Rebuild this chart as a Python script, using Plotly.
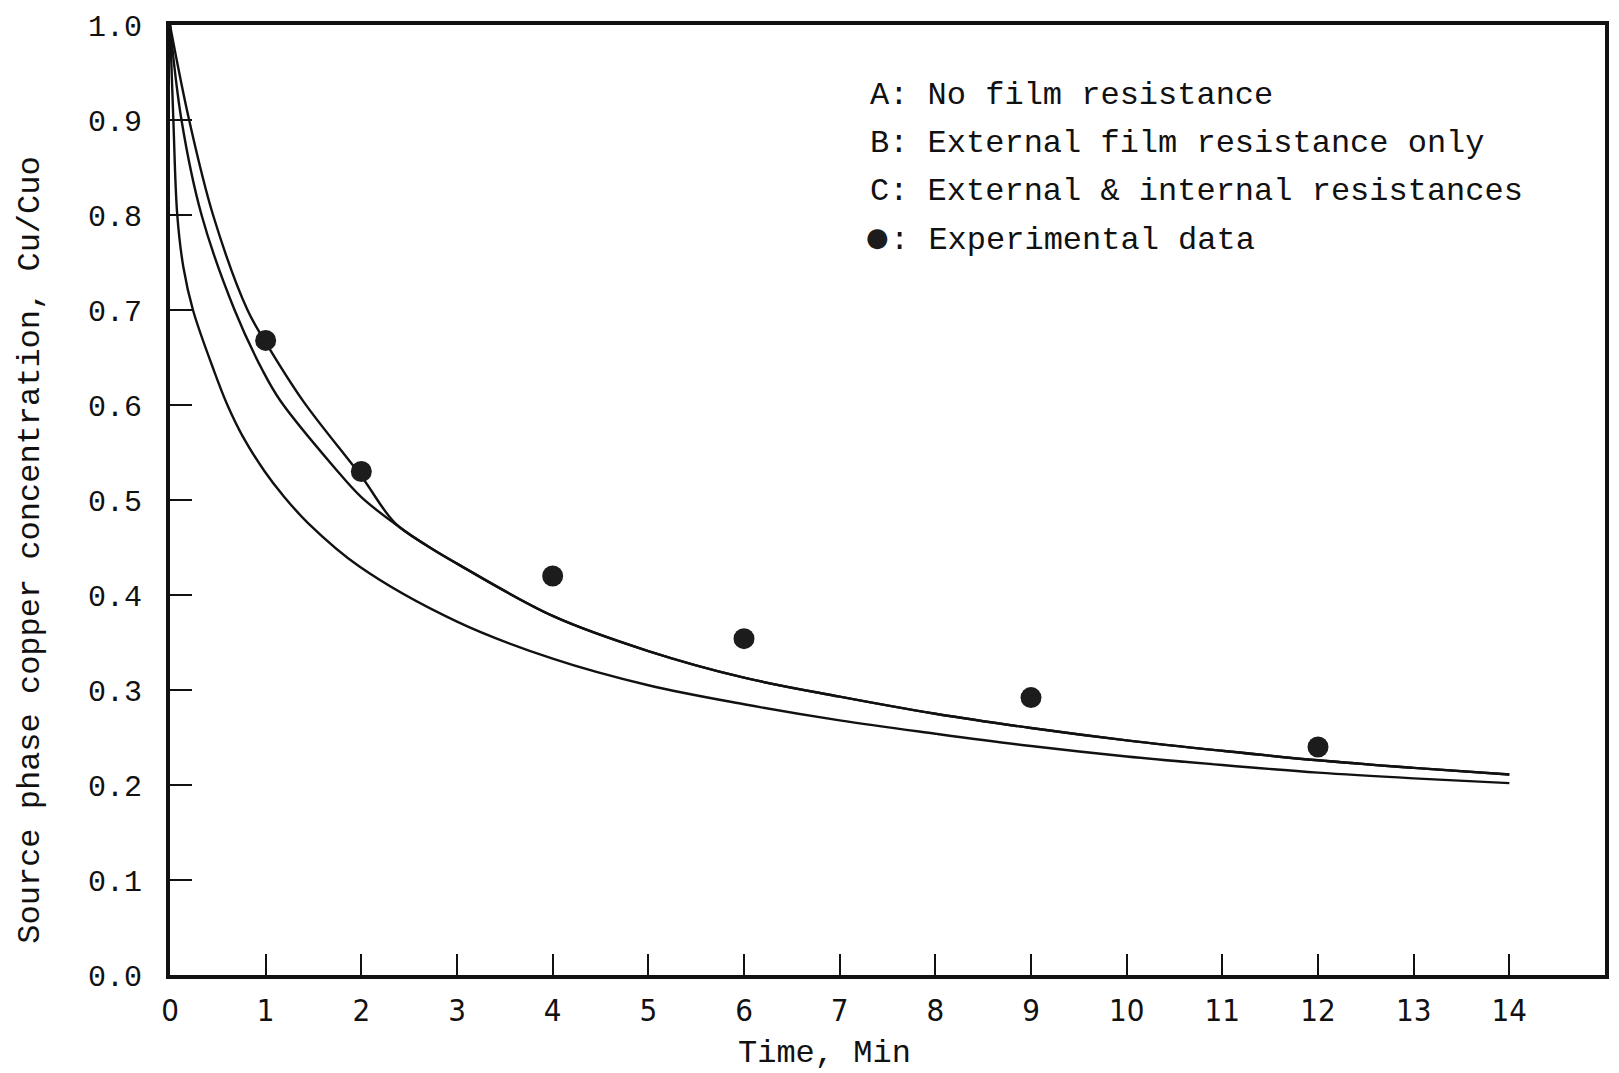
import plotly.graph_objects as go

# Shared tail of curves B and C (they coincide after t ~ 2.35 min)
tail_t = [2.7, 3.0, 4.0, 5.0, 6.0, 7.0, 8.0, 9.0, 10.0, 11.0, 12.0, 13.0, 14.0]
tail_c = [0.451, 0.433, 0.378, 0.341, 0.313, 0.293, 0.275, 0.260, 0.247, 0.236, 0.226, 0.218, 0.211]

# Curve A: No film resistance (lowest curve)
a_t = [0.0, 0.035, 0.076, 0.14, 0.24, 0.46, 0.60, 0.76, 0.99, 1.18, 1.44, 1.98, 3.0, 4.0, 5.0, 6.0, 7.0, 8.0, 9.0, 10.0, 11.0, 12.0, 13.0, 14.0]
a_c = [1.0, 0.90, 0.80, 0.745, 0.70, 0.636, 0.60, 0.567, 0.530, 0.505, 0.476, 0.430, 0.372, 0.333, 0.305, 0.285, 0.268, 0.254, 0.241, 0.230, 0.221, 0.213, 0.207, 0.202]

# Curve B: External film resistance only (middle at early times)
b_t = [0.0, 0.12, 0.33, 0.675, 0.97, 1.15, 1.72, 2.0, 2.35] + tail_t
b_c = [1.0, 0.90, 0.80, 0.70, 0.636, 0.605, 0.534, 0.503, 0.475] + tail_c

# Curve C: External & internal resistances (upper at early times)
c_t = [0.0, 0.2, 0.45, 0.81, 1.0, 1.4, 2.0, 2.35] + tail_t
c_c = [1.0, 0.90, 0.80, 0.70, 0.666, 0.603, 0.525, 0.476] + tail_c

# Experimental data
exp_t = [1, 2, 4, 6, 9, 12]
exp_c = [0.668, 0.530, 0.42, 0.354, 0.292, 0.240]

x_ticks = list(range(0, 16))
y_ticks = [round(0.1 * i, 1) for i in range(0, 11)]

legend_lines = [
    "A: No film resistance",
    "B: External film resistance only",
    "C: External & internal resistances",
    ": Experimental data",
]
legend_bullet = "\u25cf"

MONO = "Liberation Mono, Courier New, Courier, monospace"
INK = "#111111"

fig = go.Figure()
for t, c, name in [(a_t, a_c, "A"), (b_t, b_c, "B"), (c_t, c_c, "C")]:
    fig.add_trace(go.Scatter(x=t, y=c, mode="lines", name=name,
                             line=dict(color=INK, width=2.4, shape="spline", smoothing=1.0),
                             showlegend=False))
fig.add_trace(go.Scatter(x=exp_t, y=exp_c, mode="markers", name="Experimental data",
                         marker=dict(symbol="circle", size=21, color="#1c1c1c", line=dict(width=0)),
                         showlegend=False))

fig.update_xaxes(range=[0, 15], tickvals=x_ticks, ticktext=[str(v) for v in x_ticks],
                 ticks="inside", ticklen=21, tickwidth=2, tickcolor=INK,
                 showline=True, linewidth=4, linecolor=INK, mirror=True,
                 showgrid=False, zeroline=False,
                 tickfont=dict(family="Liberation Sans Narrow, DejaVu Sans Condensed, Liberation Mono, monospace", size=31, color=INK),
                 ticklabelstandoff=5)
fig.update_yaxes(range=[0, 1.0], tickvals=y_ticks, ticktext=[f"{v:.1f}" for v in y_ticks],
                 ticks="inside", ticklen=22, tickwidth=2, tickcolor=INK,
                 showline=True, linewidth=4, linecolor=INK, mirror=True,
                 showgrid=False, zeroline=False,
                 tickfont=dict(family=MONO, size=30, color=INK),
                 ticklabelstandoff=18)

legend_x = 7.30
char_w = 0.6 * 32 / 95.8  # one monospace character width in data units
legend_y = [0.926, 0.875, 0.825, 0.773]
for i, (txt, yy) in enumerate(zip(legend_lines, legend_y)):
    xx = legend_x if i < 3 else legend_x + char_w
    fig.add_annotation(x=xx, y=yy, xref="x", yref="y", text=txt, showarrow=False,
                       xanchor="left", yanchor="middle",
                       font=dict(family=MONO, size=32, color=INK))
fig.add_annotation(x=legend_x + char_w / 2, y=legend_y[3] + 0.004, xref="x", yref="y",
                   text=legend_bullet, showarrow=False, xanchor="center", yanchor="middle",
                   font=dict(family="DejaVu Sans, sans-serif", size=26, color="#1c1c1c"))

fig.add_annotation(x=0.456, y=-0.083, xref="paper", yref="paper", text="Time, Min",
                   showarrow=False, xanchor="center", yanchor="middle",
                   font=dict(family=MONO, size=32, color=INK))
fig.add_annotation(x=-0.097, y=0.4475, xref="paper", yref="paper",
                   text="Source phase copper concentration, Cu/Cuo",
                   textangle=-90, showarrow=False, xanchor="center", yanchor="middle",
                   font=dict(family=MONO, size=32, color=INK))

fig.update_layout(width=1619, height=1073,
                  margin=dict(l=170, r=10, t=23, b=98),
                  paper_bgcolor="white", plot_bgcolor="white")

fig.write_html("out.html")
